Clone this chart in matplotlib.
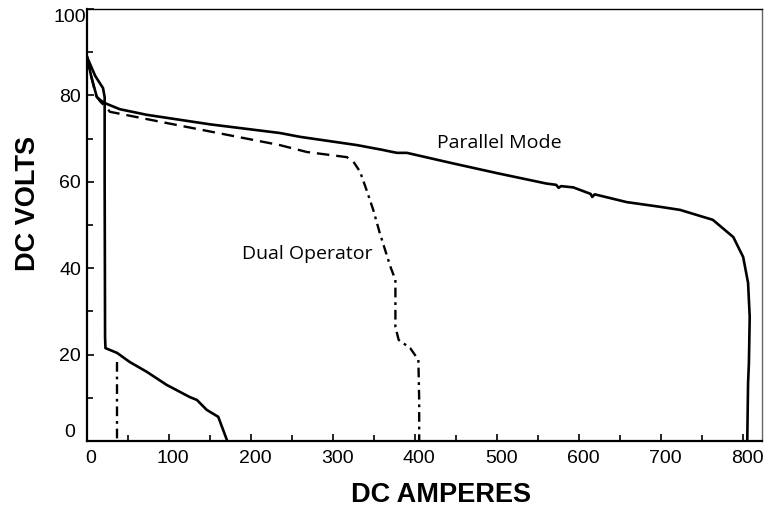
import matplotlib
matplotlib.use("Agg")
import matplotlib.pyplot as plt
import matplotlib.transforms as mtransforms
from matplotlib.ticker import MultipleLocator

# amperes / volts
parallel_amps = [0, 5, 12, 17, 22, 40, 73, 150, 235, 260, 329, 360, 370, 378, 390, 443,
                 500, 560, 572, 575, 578, 593, 614, 616, 619, 658, 699, 723, 763, 788,
                 800, 806, 808, 807, 806, 805]
parallel_volts = [88.9, 84.5, 79.6, 78.8, 78.2, 76.8, 75.5, 73.3, 71.3, 70.4, 68.5, 67.4,
                  67.0, 66.7, 66.7, 64.4, 62.0, 59.6, 59.3, 58.6, 59.0, 58.7, 57.2, 56.5,
                  57.1, 55.3, 54.2, 53.5, 51.2, 47.2, 42.6, 36.6, 28.7, 18.0, 13.4, 0.0]

dual_top_amps = [0, 5, 11, 16, 22, 28, 100, 235, 268, 317, 325]
dual_top_volts = [88.9, 84.5, 80.0, 78.6, 77.5, 76.2, 73.5, 68.5, 66.9, 65.7, 64.6]

dual_drop_amps = [325, 333, 341, 349, 357, 370, 376, 376, 376, 380, 394, 404, 405, 405]
dual_drop_volts = [64.6, 62.3, 58.0, 53.5, 48.1, 40.3, 37.3, 31.0, 26.4, 23.4, 21.5, 18.8,
                   9.5, 0.0]

single_amps = [0, 10, 19.5, 21.5, 21.5, 21.8, 22.0, 22.5, 36.6, 52, 73, 97, 125, 134,
               146, 160, 171]
single_volts = [88.9, 84.5, 81.7, 79.6, 60.0, 40.0, 24.0, 21.5, 20.4, 18.3, 16.0, 13.0,
                10.2, 9.5, 7.2, 5.6, 0.0]

single_dual_amps = [36.6, 36.6]
single_dual_volts = [18.3, 0.0]

x_ticks = [0, 100, 200, 300, 400, 500, 600, 700, 800]
y_ticks = [0, 20, 40, 60, 80, 100]

plt.rcParams['lines.scale_dashes'] = False

fig = plt.figure(figsize=(7.66, 5.2), dpi=100)
ax = fig.add_axes([0.1136, 0.1519, 0.8812, 0.8308])

lw = 1.9
dashdot = [7, 3.5, 2, 3.5]
ax.plot(parallel_amps, parallel_volts, color='black', lw=lw, solid_joinstyle='round')
ax.plot(dual_top_amps, dual_top_volts, color='black', lw=lw - 0.2, dashes=[9, 5])
ax.plot(dual_drop_amps, dual_drop_volts, color='black', lw=lw - 0.2, dashes=dashdot)
ax.plot(single_amps, single_volts, color='black', lw=lw, solid_joinstyle='round')
ax.plot(single_dual_amps, single_dual_volts, color='black', lw=lw - 0.2, dashes=dashdot)

note_font = ['Open Sans', 'DejaVu Sans']
ax.text(427, 69.0, 'Parallel Mode', fontsize=14, family=note_font, va='center', ha='left')
ax.text(348, 43.3, 'Dual Operator', fontsize=14, family=note_font, va='center', ha='right')

ax.set_xlim(0, 823)
ax.set_ylim(0, 100)
ax.set_xticks(x_ticks)
ax.set_yticks(y_ticks)
ax.xaxis.set_minor_locator(MultipleLocator(50))
ax.yaxis.set_minor_locator(MultipleLocator(10))
ax.tick_params(which='both', direction='in', top=False, right=False)
ax.tick_params(which='major', length=5, width=1.2)
ax.tick_params(which='minor', length=4, width=1.2)
ax.tick_params(axis='x', pad=6.5)
ax.tick_params(axis='y', pad=12.2)

shift = mtransforms.ScaledTranslation(4 / 100, 0, fig.dpi_scale_trans)
for lab in ax.get_xticklabels():
    lab.set_family(['Liberation Sans', 'DejaVu Sans'])
    lab.set_fontsize(14)
    lab.set_transform(lab.get_transform() + shift)
ylabs = ax.get_yticklabels()
for lab in ylabs:
    lab.set_family(['Liberation Sans', 'DejaVu Sans'])
    lab.set_fontsize(14)
    lab.set_ha('center')
ylabs[0].set_va('bottom')
ylabs[-1].set_va('top')

for side in ['left', 'bottom']:
    ax.spines[side].set_linewidth(1.6)
ax.spines['top'].set_linewidth(1.0)
ax.spines['right'].set_linewidth(1.0)
ax.spines['right'].set_color('#666666')

lab_font = dict(fontsize=19.5, fontweight='bold',
                family=['Liberation Sans Narrow', 'Liberation Sans', 'DejaVu Sans'])
ax.set_xlabel('DC AMPERES', **lab_font)
ax.set_ylabel('DC VOLTS', **lab_font)
ax.xaxis.set_label_coords(0.524, -0.095)
ax.yaxis.set_label_coords(-0.068, 0.55)

fig.savefig('out.png', dpi=100)
